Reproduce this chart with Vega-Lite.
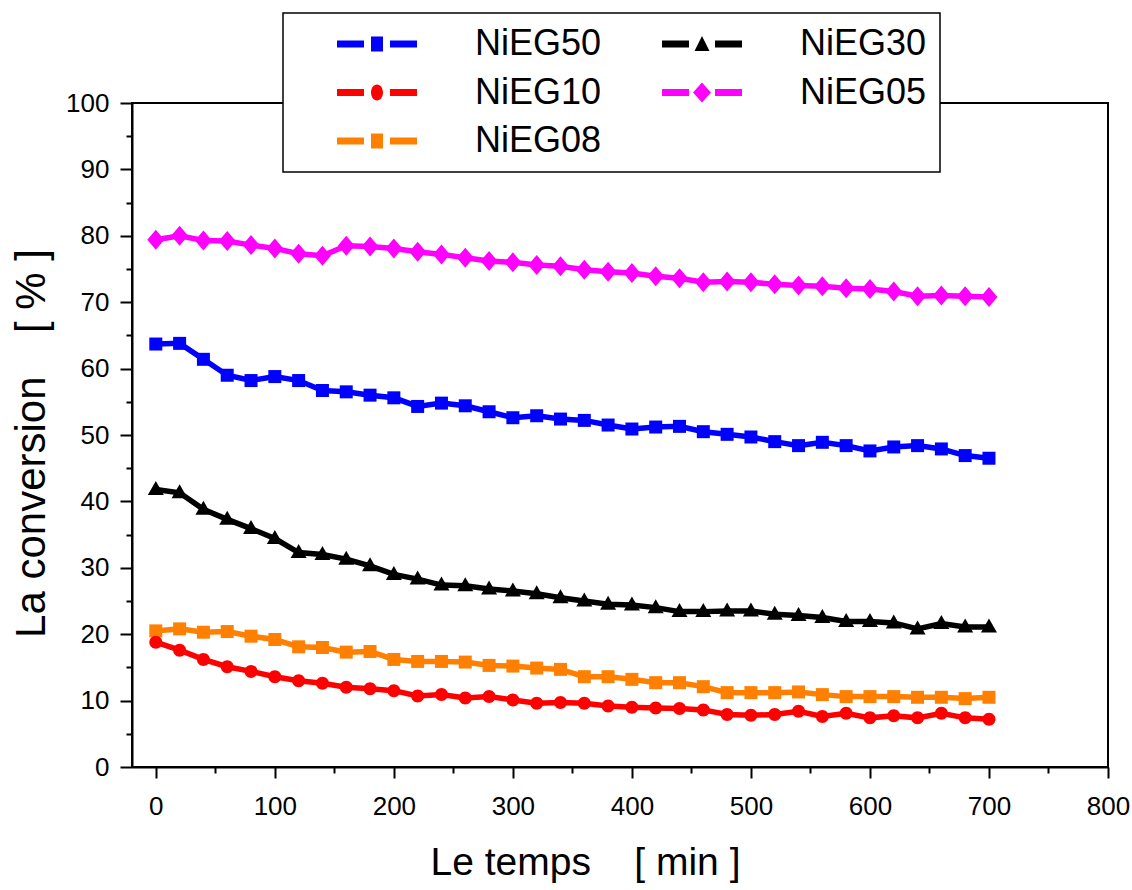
{
  "$schema": "https://vega.github.io/schema/vega-lite/v6.json",
  "width": 976,
  "height": 664,
  "autosize": "none",
  "padding": {"left": 132, "top": 103, "right": 24, "bottom": 123},
  "background": "white",
  "config": {
    "font": "Liberation Sans",
    "view": {"stroke": "black", "strokeWidth": 2},
    "axis": {
      "grid": false,
      "domainColor": "black",
      "domainWidth": 2,
      "tickColor": "black",
      "tickWidth": 2,
      "labelColor": "black",
      "labelFontSize": 26,
      "labelFont": "Liberation Sans",
      "titleFont": "Liberation Sans",
      "titleFontWeight": "normal",
      "titleColor": "black",
      "labelFlush": false,
      "labelOverlap": false
    }
  },
  "data": {
    "values": [
      {"s":"NiEG50","t":0,"v":63.7},{"s":"NiEG50","t":20,"v":63.8},{"s":"NiEG50","t":40,"v":61.4},{"s":"NiEG50","t":60,"v":59.0},{"s":"NiEG50","t":80,"v":58.2},{"s":"NiEG50","t":100,"v":58.8},{"s":"NiEG50","t":120,"v":58.2},{"s":"NiEG50","t":140,"v":56.7},{"s":"NiEG50","t":160,"v":56.5},{"s":"NiEG50","t":180,"v":56.0},{"s":"NiEG50","t":200,"v":55.6},{"s":"NiEG50","t":220,"v":54.3},{"s":"NiEG50","t":240,"v":54.8},{"s":"NiEG50","t":260,"v":54.4},{"s":"NiEG50","t":280,"v":53.5},{"s":"NiEG50","t":300,"v":52.6},{"s":"NiEG50","t":320,"v":52.9},{"s":"NiEG50","t":340,"v":52.4},{"s":"NiEG50","t":360,"v":52.2},{"s":"NiEG50","t":380,"v":51.5},{"s":"NiEG50","t":400,"v":50.9},{"s":"NiEG50","t":420,"v":51.2},{"s":"NiEG50","t":440,"v":51.3},{"s":"NiEG50","t":460,"v":50.5},{"s":"NiEG50","t":480,"v":50.1},{"s":"NiEG50","t":500,"v":49.7},{"s":"NiEG50","t":520,"v":49.0},{"s":"NiEG50","t":540,"v":48.4},{"s":"NiEG50","t":560,"v":48.9},{"s":"NiEG50","t":580,"v":48.4},{"s":"NiEG50","t":600,"v":47.6},{"s":"NiEG50","t":620,"v":48.2},{"s":"NiEG50","t":640,"v":48.4},{"s":"NiEG50","t":660,"v":47.9},{"s":"NiEG50","t":680,"v":46.9},{"s":"NiEG50","t":700,"v":46.5},
      {"s":"NiEG30","t":0,"v":41.8},{"s":"NiEG30","t":20,"v":41.3},{"s":"NiEG30","t":40,"v":38.8},{"s":"NiEG30","t":60,"v":37.3},{"s":"NiEG30","t":80,"v":35.9},{"s":"NiEG30","t":100,"v":34.4},{"s":"NiEG30","t":120,"v":32.3},{"s":"NiEG30","t":140,"v":32.0},{"s":"NiEG30","t":160,"v":31.3},{"s":"NiEG30","t":180,"v":30.3},{"s":"NiEG30","t":200,"v":29.0},{"s":"NiEG30","t":220,"v":28.3},{"s":"NiEG30","t":240,"v":27.4},{"s":"NiEG30","t":260,"v":27.3},{"s":"NiEG30","t":280,"v":26.8},{"s":"NiEG30","t":300,"v":26.5},{"s":"NiEG30","t":320,"v":26.1},{"s":"NiEG30","t":340,"v":25.5},{"s":"NiEG30","t":360,"v":25.0},{"s":"NiEG30","t":380,"v":24.5},{"s":"NiEG30","t":400,"v":24.4},{"s":"NiEG30","t":420,"v":24.0},{"s":"NiEG30","t":440,"v":23.4},{"s":"NiEG30","t":460,"v":23.4},{"s":"NiEG30","t":480,"v":23.5},{"s":"NiEG30","t":500,"v":23.5},{"s":"NiEG30","t":520,"v":23.0},{"s":"NiEG30","t":540,"v":22.8},{"s":"NiEG30","t":560,"v":22.5},{"s":"NiEG30","t":580,"v":21.9},{"s":"NiEG30","t":600,"v":21.9},{"s":"NiEG30","t":620,"v":21.7},{"s":"NiEG30","t":640,"v":20.8},{"s":"NiEG30","t":660,"v":21.6},{"s":"NiEG30","t":680,"v":21.1},{"s":"NiEG30","t":700,"v":21.1},
      {"s":"NiEG10","t":0,"v":18.8},{"s":"NiEG10","t":20,"v":17.6},{"s":"NiEG10","t":40,"v":16.2},{"s":"NiEG10","t":60,"v":15.1},{"s":"NiEG10","t":80,"v":14.4},{"s":"NiEG10","t":100,"v":13.6},{"s":"NiEG10","t":120,"v":13.0},{"s":"NiEG10","t":140,"v":12.6},{"s":"NiEG10","t":160,"v":12.0},{"s":"NiEG10","t":180,"v":11.8},{"s":"NiEG10","t":200,"v":11.5},{"s":"NiEG10","t":220,"v":10.7},{"s":"NiEG10","t":240,"v":10.9},{"s":"NiEG10","t":260,"v":10.4},{"s":"NiEG10","t":280,"v":10.6},{"s":"NiEG10","t":300,"v":10.1},{"s":"NiEG10","t":320,"v":9.6},{"s":"NiEG10","t":340,"v":9.7},{"s":"NiEG10","t":360,"v":9.6},{"s":"NiEG10","t":380,"v":9.2},{"s":"NiEG10","t":400,"v":9.0},{"s":"NiEG10","t":420,"v":8.9},{"s":"NiEG10","t":440,"v":8.8},{"s":"NiEG10","t":460,"v":8.6},{"s":"NiEG10","t":480,"v":7.9},{"s":"NiEG10","t":500,"v":7.8},{"s":"NiEG10","t":520,"v":7.9},{"s":"NiEG10","t":540,"v":8.4},{"s":"NiEG10","t":560,"v":7.6},{"s":"NiEG10","t":580,"v":8.1},{"s":"NiEG10","t":600,"v":7.4},{"s":"NiEG10","t":620,"v":7.7},{"s":"NiEG10","t":640,"v":7.4},{"s":"NiEG10","t":660,"v":8.1},{"s":"NiEG10","t":680,"v":7.4},{"s":"NiEG10","t":700,"v":7.2},
      {"s":"NiEG05","t":0,"v":79.4},{"s":"NiEG05","t":20,"v":80.0},{"s":"NiEG05","t":40,"v":79.3},{"s":"NiEG05","t":60,"v":79.2},{"s":"NiEG05","t":80,"v":78.6},{"s":"NiEG05","t":100,"v":78.1},{"s":"NiEG05","t":120,"v":77.3},{"s":"NiEG05","t":140,"v":77.0},{"s":"NiEG05","t":160,"v":78.5},{"s":"NiEG05","t":180,"v":78.4},{"s":"NiEG05","t":200,"v":78.1},{"s":"NiEG05","t":220,"v":77.6},{"s":"NiEG05","t":240,"v":77.2},{"s":"NiEG05","t":260,"v":76.7},{"s":"NiEG05","t":280,"v":76.2},{"s":"NiEG05","t":300,"v":76.0},{"s":"NiEG05","t":320,"v":75.6},{"s":"NiEG05","t":340,"v":75.4},{"s":"NiEG05","t":360,"v":74.9},{"s":"NiEG05","t":380,"v":74.6},{"s":"NiEG05","t":400,"v":74.4},{"s":"NiEG05","t":420,"v":73.9},{"s":"NiEG05","t":440,"v":73.6},{"s":"NiEG05","t":460,"v":73.0},{"s":"NiEG05","t":480,"v":73.1},{"s":"NiEG05","t":500,"v":73.0},{"s":"NiEG05","t":520,"v":72.7},{"s":"NiEG05","t":540,"v":72.5},{"s":"NiEG05","t":560,"v":72.4},{"s":"NiEG05","t":580,"v":72.1},{"s":"NiEG05","t":600,"v":72.0},{"s":"NiEG05","t":620,"v":71.6},{"s":"NiEG05","t":640,"v":70.9},{"s":"NiEG05","t":660,"v":71.0},{"s":"NiEG05","t":680,"v":70.9},{"s":"NiEG05","t":700,"v":70.8},
      {"s":"NiEG08","t":0,"v":20.5},{"s":"NiEG08","t":20,"v":20.8},{"s":"NiEG08","t":40,"v":20.3},{"s":"NiEG08","t":60,"v":20.4},{"s":"NiEG08","t":80,"v":19.7},{"s":"NiEG08","t":100,"v":19.2},{"s":"NiEG08","t":120,"v":18.1},{"s":"NiEG08","t":140,"v":18.0},{"s":"NiEG08","t":160,"v":17.3},{"s":"NiEG08","t":180,"v":17.4},{"s":"NiEG08","t":200,"v":16.2},{"s":"NiEG08","t":220,"v":15.9},{"s":"NiEG08","t":240,"v":15.9},{"s":"NiEG08","t":260,"v":15.8},{"s":"NiEG08","t":280,"v":15.3},{"s":"NiEG08","t":300,"v":15.2},{"s":"NiEG08","t":320,"v":14.9},{"s":"NiEG08","t":340,"v":14.7},{"s":"NiEG08","t":360,"v":13.6},{"s":"NiEG08","t":380,"v":13.6},{"s":"NiEG08","t":400,"v":13.2},{"s":"NiEG08","t":420,"v":12.7},{"s":"NiEG08","t":440,"v":12.7},{"s":"NiEG08","t":460,"v":12.1},{"s":"NiEG08","t":480,"v":11.2},{"s":"NiEG08","t":500,"v":11.2},{"s":"NiEG08","t":520,"v":11.2},{"s":"NiEG08","t":540,"v":11.3},{"s":"NiEG08","t":560,"v":10.9},{"s":"NiEG08","t":580,"v":10.6},{"s":"NiEG08","t":600,"v":10.6},{"s":"NiEG08","t":620,"v":10.6},{"s":"NiEG08","t":640,"v":10.5},{"s":"NiEG08","t":660,"v":10.5},{"s":"NiEG08","t":680,"v":10.3},{"s":"NiEG08","t":700,"v":10.5}
    ]
  },
  "encoding": {
    "x": {
      "field": "t", "type": "quantitative",
      "scale": {"domain": [-20, 800], "nice": false, "zero": false},
      "axis": {
        "values": [0,50,100,150,200,250,300,350,400,450,500,550,600,650,700,750,800],
        "labelExpr": "datum.value % 100 === 0 ? datum.label : ''",
        "tickSize": {"condition": {"test": "datum.value % 100 !== 0", "value": 6}, "value": 11},
        "labelPadding": 15,
        "title": "Le temps\u00a0\u00a0\u00a0\u00a0[ min ]",
        "titleFontSize": 39,
        "titlePadding": 24,
        "titleX": 453,
        "titleAlign": "center"
      }
    },
    "y": {
      "field": "v", "type": "quantitative",
      "scale": {"domain": [0, 100], "nice": false},
      "axis": {
        "values": [0,5,10,15,20,25,30,35,40,45,50,55,60,65,70,75,80,85,90,95,100],
        "labelExpr": "datum.value % 10 === 0 ? datum.label : ''",
        "tickSize": {"condition": {"test": "datum.value % 10 !== 0", "value": 6}, "value": 12},
        "labelPadding": 11,
        "title": "La conversion\u00a0\u00a0\u00a0\u2009[ % ]",
        "titleFontSize": 42,
        "titlePadding": 12,
        "titleY": 340
      }
    },
    "color": {
      "field": "s", "type": "nominal",
      "scale": {"domain": ["NiEG50","NiEG10","NiEG08","NiEG30","NiEG05"], "range": ["#0000ff","#ff0000","#ff8000","#000000","#ff00ff"]},
      "legend": {
        "orient": "none", "legendX": 151, "legendY": -90,
        "title": null, "columns": 2, "direction": "vertical",
        "symbolSize": 400, "symbolStrokeWidth": 0, "symbolOffset": 63,
        "labelFontSize": 36, "labelColor": "black", "labelLimit": 500,
        "labelFont": "Liberation Sans",
        "labelOffset": 80, "rowPadding": 12.5, "columnPadding": 19,
        "padding": 13, "fillColor": "white", "strokeColor": "black",
        "labelExpr": "datum.label + '\u00a0\u00a0\u00a0\u00a0\u00a0\u00a0\u00a0'",
        "encode": {
          "legend": {"update": {"strokeWidth": {"value": 1.5}}},
          "symbols": {
            "update": {
              "size": {"value": 400},
              "fill": {"scale": "color", "field": "value"},
              "fillOpacity": {"value": 1},
              "strokeWidth": {"value": 0},
              "shape": {"signal": "datum.value === 'NiEG30' ? 'M-4,-0.35H-1.3V0.35H-4ZM1.3,-0.35H4V0.35H1.3ZM0,-0.8L0.75,0.7L-0.75,0.7Z' : datum.value === 'NiEG10' ? 'M-4,-0.35H-1.3V0.35H-4ZM1.3,-0.35H4V0.35H1.3ZM-0.6,0A0.6,0.8,0,1,0,0.6,0A0.6,0.8,0,1,0,-0.6,0Z' : datum.value === 'NiEG05' ? 'M-4,-0.35H-1.3V0.35H-4ZM1.3,-0.35H4V0.35H1.3ZM0,-1L0.9,0L0,1L-0.9,0Z' : 'M-4,-0.35H-1.3V0.35H-4ZM1.3,-0.35H4V0.35H1.3ZM-0.6,-0.75H0.6V0.75H-0.6Z'"}
            }
          }
        }
      }
    }
  },
  "layer": [
    {
      "mark": {"type": "line", "strokeWidth": 5.5}
    },
    {
      "transform": [{"filter": {"field": "s", "oneOf": ["NiEG50", "NiEG08"]}}],
      "mark": {"type": "point", "filled": true, "opacity": 1, "size": 400, "strokeWidth": 0, "shape": "M-0.65,-0.65H0.65V0.65H-0.65Z"}
    },
    {
      "transform": [{"filter": {"field": "s", "equal": "NiEG10"}}],
      "mark": {"type": "point", "filled": true, "opacity": 1, "size": 400, "strokeWidth": 0, "shape": "M-0.65,0A0.65,0.65,0,1,0,0.65,0A0.65,0.65,0,1,0,-0.65,0Z"}
    },
    {
      "transform": [{"filter": {"field": "s", "equal": "NiEG30"}}],
      "mark": {"type": "point", "filled": true, "opacity": 1, "size": 400, "strokeWidth": 0, "shape": "M0,-0.85L0.8,0.55L-0.8,0.55Z"}
    },
    {
      "transform": [{"filter": {"field": "s", "equal": "NiEG05"}}],
      "mark": {"type": "point", "filled": true, "opacity": 1, "size": 400, "strokeWidth": 0, "shape": "M0,-1L0.85,0L0,1L-0.85,0Z"}
    }
  ]
}
